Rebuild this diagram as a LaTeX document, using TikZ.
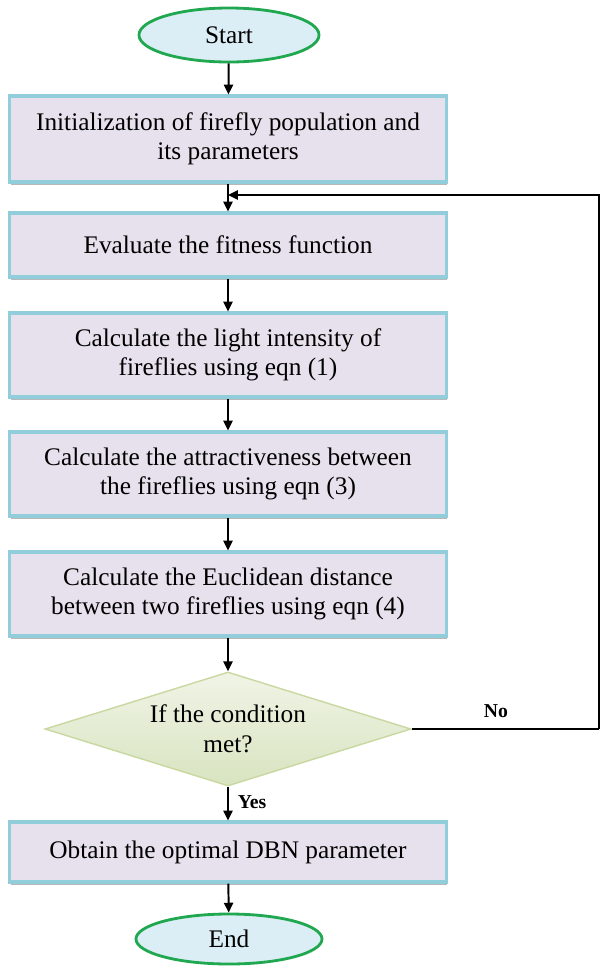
\documentclass[tikz,border=0pt]{standalone}
\usepackage{fontspec}
\setmainfont{Liberation Serif}
\usetikzlibrary{shapes.geometric,arrows.meta,shadows}
\definecolor{boxfill}{HTML}{E6E1EC}
\definecolor{boxline}{HTML}{92CDDC}
\definecolor{ovalfill}{HTML}{DCEEF5}
\definecolor{ovalline}{HTML}{20A850}
\definecolor{decline}{HTML}{C8D8A0}
\definecolor{dectop}{HTML}{F0F4E6}
\definecolor{decbot}{HTML}{D8E4C0}
\tikzset{
  procbox/.style={draw=boxline,line width=2.2pt,fill=boxfill,minimum width=10.9cm,align=center,font=\fontsize{18}{21}\selectfont,
    drop shadow={shadow xshift=0.6pt,shadow yshift=-2pt,fill=gray!70,opacity=0.8}},
  terminal/.style={ellipse,draw=ovalline,line width=2pt,fill=ovalfill,font=\fontsize{18}{21}\selectfont},
  flow/.style={-{Triangle[length=7pt,width=6.5pt]},line width=1.4pt,black},
  tag/.style={font=\bfseries\fontsize{14}{16}\selectfont}
}
\begin{document}
\begin{tikzpicture}[x=0.025cm,y=-0.025cm]
% Firefly optimisation flowchart
\useasboundingbox (0,0) rectangle (601,969);
\node[terminal,minimum width=4.5cm,minimum height=1.35cm] (start) at (229,35) {Start};
\node[procbox,minimum height=2.15cm] (init) at (228,139) {Initialization of firefly population and\\its parameters};
\node[procbox,minimum height=1.6cm] (fit) at (228,245) {Evaluate the fitness function};
\node[procbox,minimum height=2.1cm] (light) at (228,355) {Calculate the light intensity of\\fireflies using eqn (1)};
\node[procbox,minimum height=2.1cm] (attr) at (228,474) {Calculate the attractiveness between\\the fireflies using eqn (3)};
\node[procbox,minimum height=2.1cm] (dist) at (228,594) {Calculate the Euclidean distance\\between two fireflies using eqn (4)};
\node[diamond,aspect=3.2,draw=decline,line width=1pt,top color=dectop,bottom color=decbot,minimum width=9.15cm,minimum height=2.85cm,inner sep=0pt,align=center,font=\fontsize{18}{21}\selectfont] (cond) at (228,729) {If the condition\\met?};
\node[procbox,minimum height=1.5cm] (opt) at (228,852) {Obtain the optimal DBN parameter};
\node[terminal,minimum width=4.65cm,minimum height=1.25cm] (stop) at (229,939) {End};
\coordinate (loop) at (228,195);
\coordinate (edge) at (599,195);
\coordinate (noend) at (599,729);
\draw[flow] (start)--(init);
\draw[flow] (init)--(fit);
\draw[flow] (fit)--(light);
\draw[flow] (light)--(attr);
\draw[flow] (attr)--(dist);
\draw[flow] (dist)--(cond);
\draw[flow] (cond)--(opt) node[pos=0.45,right=3pt,tag] {Yes};
\draw[flow] (opt)--(stop);
\draw[line width=1.4pt] (cond.east)--(noend) node[pos=0.45,above=4pt,tag] {No};
\draw[flow] (noend)--(edge)--(loop);
\end{tikzpicture}
\end{document}
